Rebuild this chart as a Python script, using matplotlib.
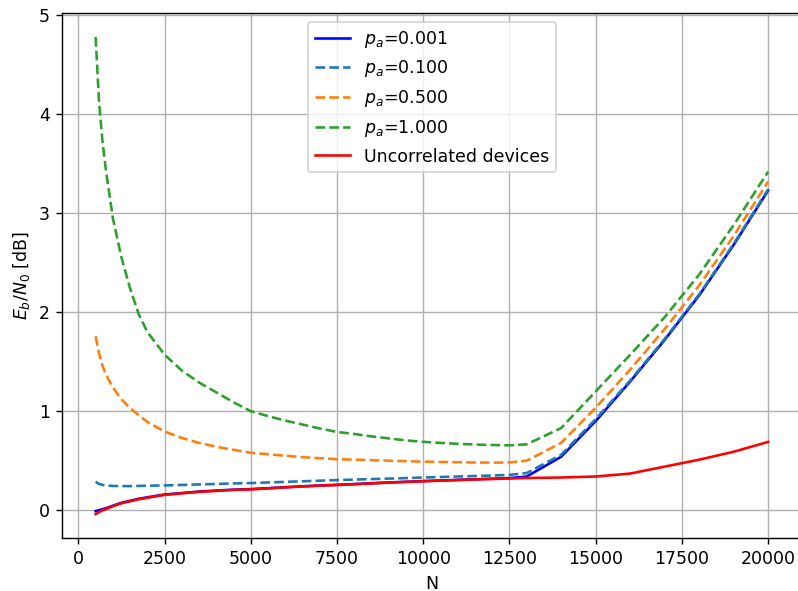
import numpy as np
import matplotlib
matplotlib.use('Agg')
import matplotlib.pyplot as plt

# number of devices
N = [500, 600, 700, 800, 1000, 1250, 1500, 1750, 2000, 2500, 3000, 3500, 4000,
     4500, 5000, 5500, 6000, 6500, 7000, 7500, 8000, 8500, 9000, 9500, 10000,
     10500, 11000, 11500, 12000, 12500, 13000, 14000, 15000, 16000, 17000,
     18000, 19000, 20000]

# Eb/N0 [dB]
eb_001 = [-0.01, 0.00, 0.01, 0.02, 0.045, 0.075, 0.095, 0.115, 0.13, 0.158,
          0.173, 0.188, 0.198, 0.207, 0.213, 0.222, 0.232, 0.241, 0.249, 0.256,
          0.264, 0.272, 0.28, 0.287, 0.294, 0.3, 0.306, 0.312, 0.318, 0.324,
          0.34, 0.54, 0.90, 1.30, 1.72, 2.17, 2.68, 3.23]
eb_100 = [0.287, 0.265, 0.255, 0.25, 0.245, 0.243, 0.243, 0.245, 0.247, 0.25,
          0.255, 0.26, 0.265, 0.27, 0.274, 0.28, 0.286, 0.292, 0.298, 0.304,
          0.309, 0.314, 0.319, 0.324, 0.33, 0.335, 0.34, 0.345, 0.35, 0.357,
          0.375, 0.56, 0.92, 1.31, 1.73, 2.18, 2.69, 3.24]
eb_500 = [1.757, 1.58, 1.46, 1.37, 1.24, 1.12, 1.03, 0.96, 0.89, 0.795, 0.73,
          0.68, 0.64, 0.61, 0.58, 0.565, 0.55, 0.535, 0.525, 0.515, 0.51,
          0.505, 0.50, 0.495, 0.49, 0.487, 0.484, 0.482, 0.48, 0.482, 0.50,
          0.68, 1.035, 1.42, 1.83, 2.27, 2.77, 3.32]
eb_1000 = [4.78, 4.12, 3.72, 3.43, 2.95, 2.55, 2.24, 1.98, 1.80, 1.57, 1.41,
           1.29, 1.19, 1.09, 1.00, 0.95, 0.905, 0.865, 0.825, 0.79, 0.77,
           0.745, 0.725, 0.705, 0.69, 0.68, 0.67, 0.663, 0.658, 0.655, 0.665,
           0.83, 1.20, 1.57, 1.95, 2.38, 2.88, 3.42]
eb_uncorr = [-0.04, -0.02, 0.00, 0.01, 0.04, 0.07, 0.09, 0.11, 0.125, 0.155,
             0.17, 0.185, 0.195, 0.205, 0.21, 0.22, 0.23, 0.24, 0.248, 0.254,
             0.262, 0.27, 0.278, 0.285, 0.292, 0.298, 0.304, 0.31, 0.315,
             0.32, 0.325, 0.33, 0.34, 0.37, 0.44, 0.51, 0.59, 0.69]

dpi = 125
fig = plt.figure(figsize=(798 / dpi, 591 / dpi), dpi=dpi)
ax = fig.add_axes([0.0777, 0.0897, 0.927, 0.888])

ax.plot(N, eb_001, '-', color='b', label='$p_a$=0.001')
ax.plot(N, eb_100, '--', color='C0', label='$p_a$=0.100')
ax.plot(N, eb_500, '--', color='C1', label='$p_a$=0.500')
ax.plot(N, eb_1000, '--', color='C2', label='$p_a$=1.000')
ax.plot(N, eb_uncorr, '-', color='r', label='Uncorrelated devices')

ax.set_xticks(np.arange(0, 20001, 2500))
ax.set_xlabel('N')
ax.set_ylabel('$E_b/N_0$ [dB]')
ax.grid(True)
ax.legend(loc='upper center')

fig.savefig('out.png', dpi=dpi)
